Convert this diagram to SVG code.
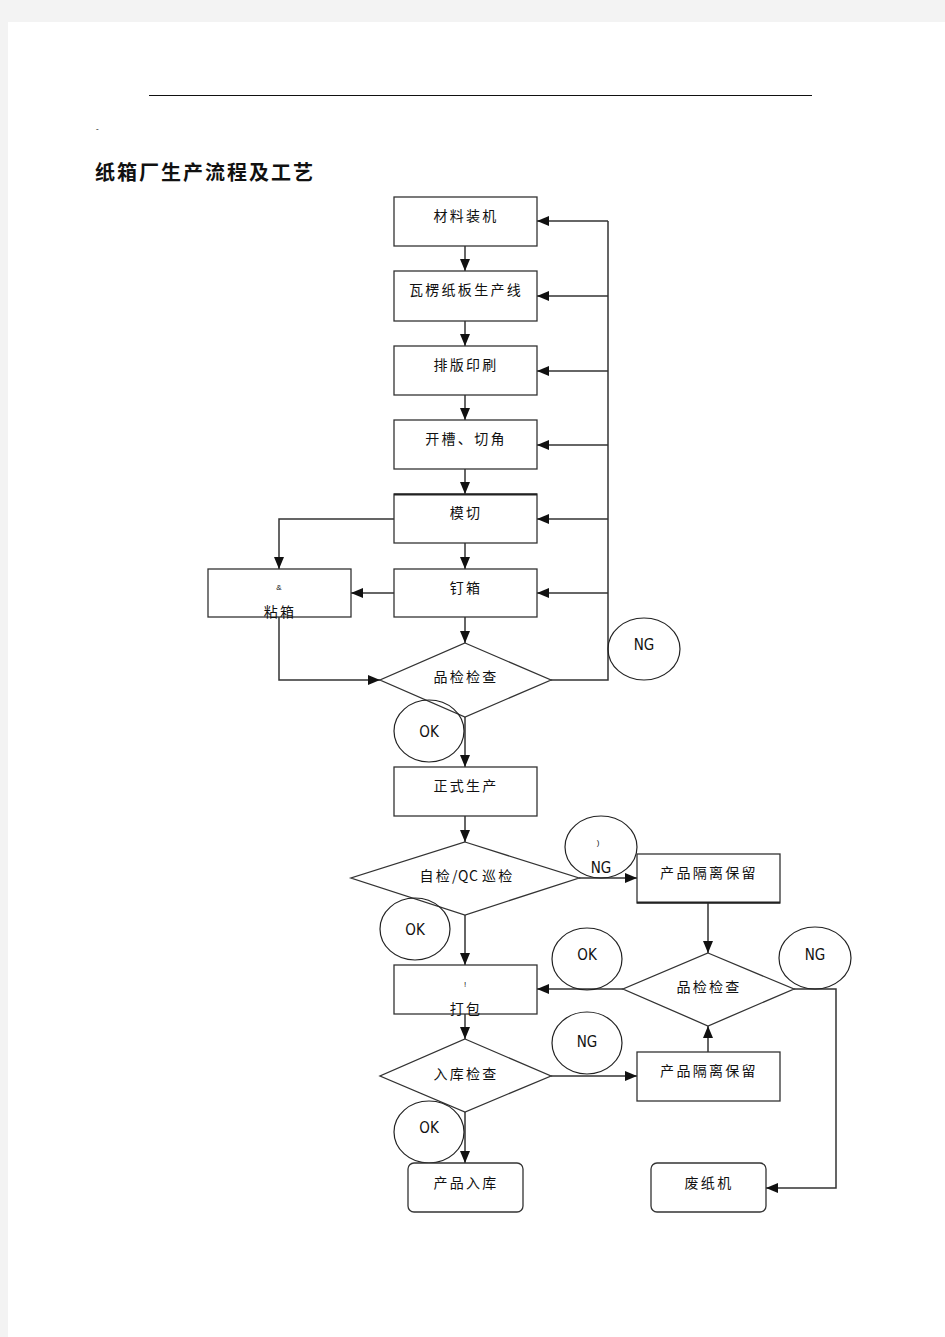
<svg xmlns="http://www.w3.org/2000/svg" width="945" height="1337" viewBox="0 0 945 1337">
<defs>
<marker id="ah" markerWidth="13" markerHeight="11" refX="12" refY="5" orient="auto" markerUnits="userSpaceOnUse">
<path d="M0,0 L12,5 L0,10 z" fill="#111"/>
</marker>
<style>
.bx{fill:#fff;stroke:#333;stroke-width:1.3}
.dm{fill:#fff;stroke:#333;stroke-width:1.3}
.el{fill:none;stroke:#222;stroke-width:1.2}
.ln{fill:none;stroke:#333;stroke-width:1.5}
.ar{fill:none;stroke:#333;stroke-width:1.5;marker-end:url(#ah)}
.t{font-family:"Noto Sans CJK SC","Noto Sans CJK JP",sans-serif;font-size:14px;letter-spacing:2.3px;fill:#111;text-anchor:middle}
.e{font-family:"DejaVu Sans Condensed","DejaVu Sans",sans-serif;font-stretch:condensed;font-size:15px;fill:#111;text-anchor:middle}
.s{font-family:"Liberation Sans",sans-serif;font-size:8px;fill:#111;text-anchor:middle}
</style>
</defs>
<rect x="0" y="0" width="945" height="1337" fill="#f3f3f3"/>
<rect x="8" y="22" width="937" height="1315" fill="#fff"/>
<line x1="149" y1="95.5" x2="812" y2="95.5" stroke="#111" stroke-width="1.2"/>
<text x="96" y="134" class="s" style="text-anchor:start">ˆ</text>
<text x="95" y="180" style="font-family:'Noto Sans CJK SC',sans-serif;font-size:20px;font-weight:bold;fill:#111;letter-spacing:2px">纸箱厂生产流程及工艺</text>

<g id="connectors">
<line class="ar" x1="465" y1="246" x2="465" y2="271"/>
<line class="ar" x1="465" y1="321" x2="465" y2="346"/>
<line class="ar" x1="465" y1="395" x2="465" y2="420"/>
<line class="ar" x1="465" y1="469" x2="465" y2="494"/>
<line class="ar" x1="465" y1="543" x2="465" y2="569"/>
<line class="ar" x1="465" y1="617" x2="465" y2="643"/>
<polyline class="ln" points="551,680 608,680 608,221"/>
<line class="ar" x1="608" y1="221" x2="537" y2="221"/>
<line class="ar" x1="608" y1="296" x2="537" y2="296"/>
<line class="ar" x1="608" y1="371" x2="537" y2="371"/>
<line class="ar" x1="608" y1="445" x2="537" y2="445"/>
<line class="ar" x1="608" y1="519" x2="537" y2="519"/>
<line class="ar" x1="608" y1="593" x2="537" y2="593"/>
<polyline class="ar" points="394,519 279,519 279,569"/>
<line class="ar" x1="394" y1="593" x2="351" y2="593"/>
<polyline class="ar" points="279,617 279,680 380,680"/>
<line class="ar" x1="465" y1="717" x2="465" y2="767"/>
<line class="ar" x1="465" y1="816" x2="465" y2="842"/>
<line class="ar" x1="579" y1="878" x2="637" y2="878"/>
<line class="ar" x1="708" y1="903" x2="708" y2="953"/>
<line class="ar" x1="623" y1="989" x2="537" y2="989"/>
<polyline class="ar" points="794,989 836,989 836,1188 766,1188"/>
<line class="ar" x1="465" y1="915" x2="465" y2="965"/>
<line class="ar" x1="465" y1="1014" x2="465" y2="1039"/>
<line class="ar" x1="551" y1="1076" x2="637" y2="1076"/>
<line class="ar" x1="708" y1="1052" x2="708" y2="1026"/>
<line class="ar" x1="465" y1="1112" x2="465" y2="1163"/>
</g>

<g id="n1"><rect class="bx" x="394" y="197" width="143" height="49"/><text class="t" x="466" y="221">材料装机</text></g>
<g id="n2"><rect class="bx" x="394" y="271" width="143" height="50"/><text class="t" x="466" y="295">瓦楞纸板生产线</text></g>
<g id="n3"><rect class="bx" x="394" y="346" width="143" height="49"/><text class="t" x="466" y="370">排版印刷</text></g>
<g id="n4"><rect class="bx" x="394" y="420" width="143" height="49"/><text class="t" x="466" y="444">开槽、切角</text></g>
<g id="n5"><rect class="bx" x="394" y="494" width="143" height="49"/><line x1="394" y1="494.5" x2="537" y2="494.5" stroke="#222" stroke-width="2"/><text class="t" x="466" y="518">模切</text></g>
<g id="n6"><rect class="bx" x="394" y="569" width="143" height="48"/><text class="t" x="466" y="593">钉箱</text></g>
<g id="n7"><rect class="bx" x="208" y="569" width="143" height="48"/><text class="s" x="279" y="590">&amp;</text><text class="t" x="280" y="617">粘箱</text></g>
<g id="d1"><polygon class="dm" points="465,643 551,680 465,717 380,680"/><text class="t" x="466" y="682">品检检查</text></g>
<g id="ng1"><ellipse class="el" cx="644" cy="649" rx="36" ry="31"/><text class="e" x="644" y="650">NG</text></g>
<g id="ok1"><ellipse class="el" cx="429" cy="731" rx="35" ry="31"/><text class="e" x="429" y="737">OK</text></g>
<g id="n8"><rect class="bx" x="394" y="767" width="143" height="49"/><text class="t" x="466" y="791">正式生产</text></g>
<g id="d2"><polygon class="dm" points="465,842 579,878 465,915 351,878"/><text class="t" x="467" y="881">自检<tspan style="letter-spacing:0.5px">/QC </tspan>巡检</text></g>
<g id="ng2"><ellipse class="el" cx="601" cy="847" rx="36" ry="31"/><text class="s" x="598" y="845">)</text><text class="e" x="601" y="873">NG</text></g>
<g id="n9"><rect class="bx" x="637" y="854" width="143" height="49"/><line x1="637" y1="902.5" x2="780" y2="902.5" stroke="#222" stroke-width="2"/><text class="t" x="709" y="878">产品隔离保留</text></g>
<g id="ok2"><ellipse class="el" cx="415" cy="929" rx="35" ry="31"/><text class="e" x="415" y="935">OK</text></g>
<g id="d3"><polygon class="dm" points="708,953 794,989 708,1026 623,989"/><text class="t" x="709" y="992">品检检查</text></g>
<g id="ok3"><ellipse class="el" cx="587" cy="959" rx="35" ry="31"/><text class="e" x="587" y="960">OK</text></g>
<g id="ng3"><ellipse class="el" cx="815" cy="958" rx="36" ry="31"/><text class="e" x="815" y="960">NG</text></g>
<g id="n10"><rect class="bx" x="394" y="965" width="143" height="49"/><text class="s" x="465" y="987">!</text><text class="t" x="466" y="1014">打包</text></g>
<g id="d4"><polygon class="dm" points="465,1039 551,1076 465,1112 380,1076"/><text class="t" x="466" y="1079">入库检查</text></g>
<g id="ng4"><ellipse class="el" cx="587" cy="1043" rx="35" ry="31"/><text class="e" x="587" y="1047">NG</text></g>
<g id="n11"><rect class="bx" x="637" y="1052" width="143" height="49"/><text class="t" x="709" y="1076">产品隔离保留</text></g>
<g id="ok4"><ellipse class="el" cx="429" cy="1132" rx="35" ry="31"/><text class="e" x="429" y="1133">OK</text></g>
<g id="n12"><rect class="bx" x="408" y="1163" width="115" height="49" rx="6"/><text class="t" x="466" y="1188">产品入库</text></g>
<g id="n13"><rect class="bx" x="651" y="1163" width="115" height="49" rx="6"/><text class="t" x="709" y="1188">废纸机</text></g>
</svg>
